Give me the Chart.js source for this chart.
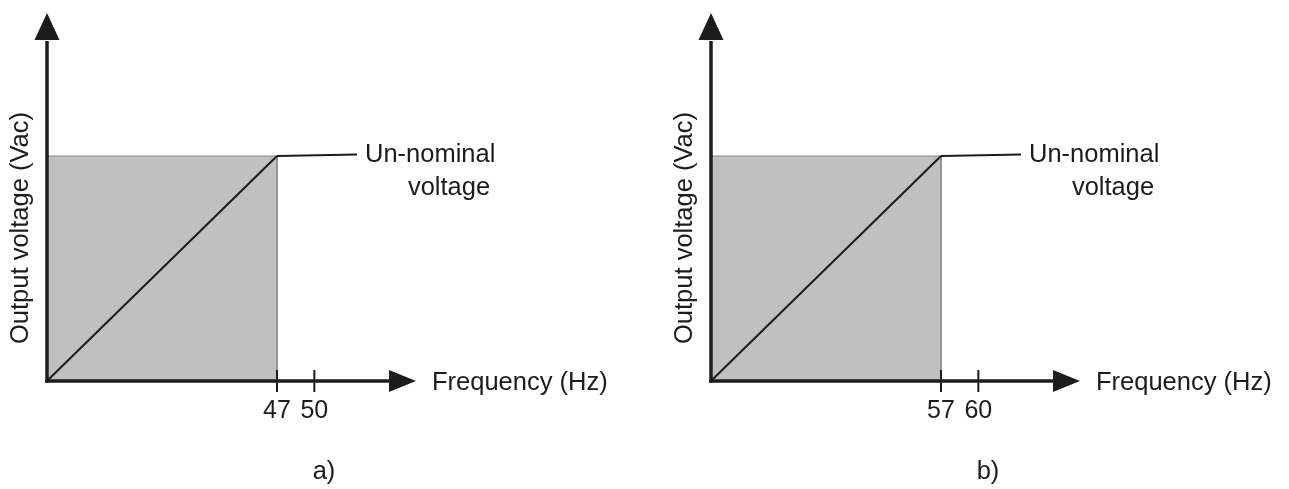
<!DOCTYPE html>
<html>
<head>
<meta charset="utf-8">
<script src="https://cdn.jsdelivr.net/npm/chart.js@4/dist/chart.umd.min.js"></script>
<style>
  html, body { margin: 0; padding: 0; background: #ffffff; }
  body { width: 1289px; height: 489px; position: relative; overflow: hidden; }
  .panel { position: absolute; top: 0; width: 625px; height: 489px; }
</style>
</head>
<body>
<div class="panel" style="left:0px"><canvas id="c0" width="625" height="489"></canvas></div>
<div class="panel" style="left:664px"><canvas id="c1" width="625" height="489"></canvas></div>
<script>
// ---------- data ----------
const panelCaptions   = ['a)', 'b)'];
const kneeFreqHz      = [47, 57];          // frequency at which output reaches Un
const nominalFreqHz   = [50, 60];          // nominal frequency
const xTickValues     = [[47, 50], [57, 60]];
const rampFreqHz      = [[0, 47], [0, 57]]; // V/f ramp: frequency points
const rampVoltagePU   = [0, 1];             // output voltage, per-unit of Un
const xAxisTitle      = 'Frequency (Hz)';
const yAxisTitle      = 'Output voltage (Vac)';
const curveLabelLines = ['Un-nominal', 'voltage'];

// ---------- schematic (broken) linear scale ----------
class SchematicScale extends Chart.LinearScale {
  _dec(v) {
    const k = this.options.kneeValue, f = this.options.kneeFraction;
    if (v <= k) return (v - this.min) / (k - this.min) * f;
    return f + (v - k) / (this.max - k) * (1 - f);
  }
  getPixelForValue(v) {
    if (v === null || v === undefined || isNaN(v)) return NaN;
    return this.getPixelForDecimal(this._dec(v));
  }
  getValueForPixel(p) {
    const d = this.getDecimalForPixel(p);
    const k = this.options.kneeValue, f = this.options.kneeFraction;
    if (d <= f) return this.min + d / f * (k - this.min);
    return k + (d - f) / (1 - f) * (this.max - k);
  }
}
SchematicScale.id = 'schematic';
SchematicScale.defaults = Chart.LinearScale.defaults;
Chart.register(SchematicScale);

const FONT = "'Liberation Sans', Arial, Helvetica, sans-serif";
const INK = '#1c1c1c';
const TEXT_SIZE = 25.5;

function decorPlugin(i) {
  return {
    id: 'decor' + i,
    afterDatasetsDraw(chart) {
      const ctx = chart.ctx;
      const a = chart.chartArea;
      const xs = chart.scales.x, ys = chart.scales.y;
      ctx.save();
      ctx.strokeStyle = INK;
      ctx.fillStyle = INK;
      // y axis with arrow
      ctx.lineWidth = 3.5;
      ctx.beginPath();
      ctx.moveTo(a.left, a.bottom + 1.75);
      ctx.lineTo(a.left, a.top + 20);
      ctx.stroke();
      ctx.beginPath();
      ctx.moveTo(a.left, a.top - 8);
      ctx.lineTo(a.left - 12.5, a.top + 19);
      ctx.lineTo(a.left + 12.5, a.top + 19);
      ctx.closePath();
      ctx.fill();
      // x axis with arrow
      ctx.beginPath();
      ctx.moveTo(a.left - 1.75, a.bottom);
      ctx.lineTo(a.right + 2, a.bottom);
      ctx.stroke();
      ctx.beginPath();
      ctx.moveTo(a.right + 27, a.bottom);
      ctx.lineTo(a.right, a.bottom - 11);
      ctx.lineTo(a.right, a.bottom + 11);
      ctx.closePath();
      ctx.fill();
      // tick marks crossing the axis
      ctx.lineWidth = 2;
      xs.ticks.forEach((t, k) => {
        const px = xs.getPixelForTick(k);
        ctx.beginPath();
        ctx.moveTo(px, a.bottom - 11);
        ctx.lineTo(px, a.bottom + 11);
        ctx.stroke();
      });
      // leader from the knee point to the label
      const kx = xs.getPixelForValue(kneeFreqHz[i]);
      const ky = ys.getPixelForValue(rampVoltagePU[1]);
      ctx.lineWidth = 2;
      ctx.beginPath();
      ctx.moveTo(kx, ky);
      ctx.lineTo(kx + 80, ky - 1.5);
      ctx.stroke();
      // texts
      ctx.font = TEXT_SIZE + 'px ' + FONT;
      ctx.textBaseline = 'middle';
      ctx.textAlign = 'left';
      ctx.fillText(curveLabelLines[0], kx + 88, ky - 1);
      ctx.textAlign = 'center';
      ctx.fillText(curveLabelLines[1], kx + 172, ky + 32);
      ctx.textAlign = 'left';
      ctx.fillText(xAxisTitle, a.right + 43, a.bottom + 2);
      // y title
      ctx.save();
      ctx.translate(a.left - 19, a.top + 207);
      ctx.rotate(-Math.PI / 2);
      ctx.textAlign = 'center';
      ctx.textBaseline = 'alphabetic';
      ctx.fillText(yAxisTitle, 0, 0);
      ctx.restore();
      // caption
      ctx.textAlign = 'center';
      ctx.textBaseline = 'alphabetic';
      ctx.fillText(panelCaptions[i], a.left + 277, 479);
      ctx.restore();
    }
  };
}

function makePanel(i) {
  const ramp = rampFreqHz[i].map((f, k) => ({ x: f, y: rampVoltagePU[k] }));
  const region = [
    { x: rampFreqHz[i][0], y: rampVoltagePU[1] },
    { x: kneeFreqHz[i], y: rampVoltagePU[1] },
    { x: kneeFreqHz[i], y: rampVoltagePU[0] }
  ];
  return new Chart(document.getElementById('c' + i), {
    type: 'line',
    data: {
      datasets: [
        { label: 'V/f', data: ramp, borderColor: INK, borderWidth: 2,
          pointRadius: 0, fill: false, tension: 0 },
        { label: 'region', data: region, borderColor: '#8a8a8a', borderWidth: 1,
          backgroundColor: '#c0c0c0', pointRadius: 0, fill: 'origin', tension: 0 }
      ]
    },
    options: {
      responsive: false,
      animation: false,
      devicePixelRatio: 1,
      events: [],
      layout: { padding: { left: 47, right: 236, top: 21, bottom: 68 } },
      plugins: { legend: { display: false }, tooltip: { enabled: false }, title: { display: false } },
      scales: {
        x: {
          type: 'schematic',
          min: 0,
          max: nominalFreqHz[i] + 6,
          kneeValue: kneeFreqHz[i],
          kneeFraction: 230 / 342,
          grid: { display: false, drawTicks: false },
          border: { display: false },
          afterFit(s) { s.height = 40; },
          afterBuildTicks(s) { s.ticks = xTickValues[i].map(v => ({ value: v })); },
          ticks: {
            autoSkip: false, maxRotation: 0, padding: 15,
            color: INK, font: { family: FONT, size: 25 },
            callback: v => String(v)
          }
        },
        y: {
          type: 'linear', min: 0, max: 1.6, display: false
        }
      }
    },
    plugins: [decorPlugin(i)]
  });
}
makePanel(0);
makePanel(1);
</script>
</body>
</html>
